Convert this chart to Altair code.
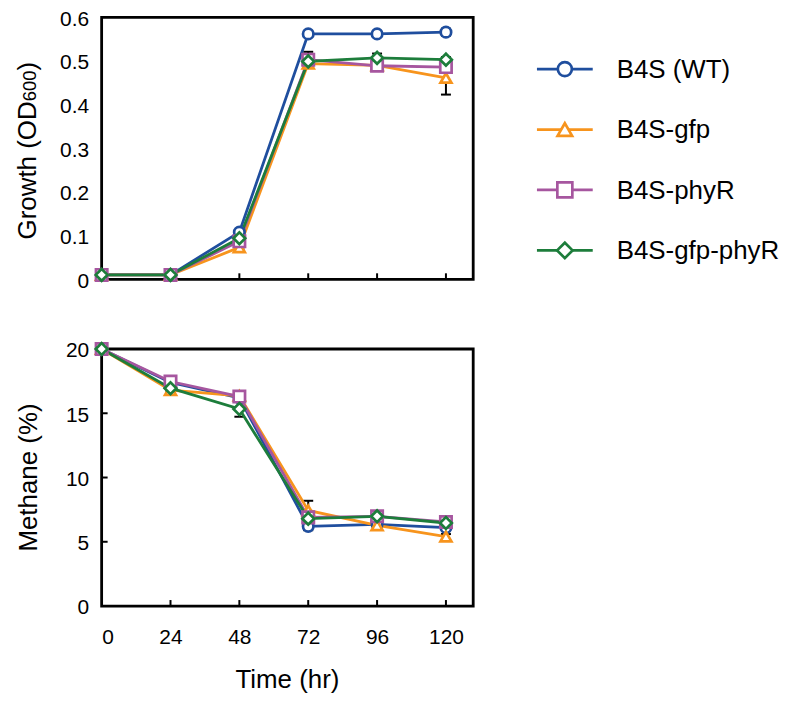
import altair as alt
import pandas as pd

FONT = "Liberation Sans"

times = [0, 24, 48, 72, 96, 120]
series = ["B4S (WT)", "B4S-gfp", "B4S-phyR", "B4S-gfp-phyR"]
colors = ["#1F4E9E", "#F7941D", "#A6569F", "#1D7D3B"]
shapes = ["circle", "triangle-up", "square", "diamond"]
plot_sizes = [110, 140, 95, 115]
legend_sizes = [200, 240, 170, 210]

# Growth (OD600)
od_wt = [0.010, 0.010, 0.108, 0.562, 0.562, 0.566]
od_gfp = [0.010, 0.010, 0.073, 0.494, 0.490, 0.461]
od_phyr = [0.010, 0.010, 0.087, 0.503, 0.489, 0.486]
od_gfp_phyr = [0.010, 0.010, 0.094, 0.499, 0.507, 0.503]
od_err_wt = [0.001, 0.001, 0.005, 0.004, 0.003, 0.008]
od_err_gfp = [0.001, 0.001, 0.004, 0.008, 0.010, 0.038]
od_err_phyr = [0.001, 0.001, 0.005, 0.018, 0.008, 0.010]
od_err_gfp_phyr = [0.001, 0.001, 0.004, 0.008, 0.010, 0.006]

# Methane (%)
ch4_wt = [20.0, 17.4, 16.2, 6.2, 6.36, 6.1]
ch4_gfp = [20.0, 16.8, 16.36, 7.44, 6.28, 5.4]
ch4_phyr = [20.0, 17.47, 16.3, 6.9, 6.98, 6.54]
ch4_gfp_phyr = [20.0, 16.95, 15.33, 6.8, 6.98, 6.46]
ch4_err_wt = [0.05, 0.35, 0.2, 0.3, 0.2, 0.2]
ch4_err_gfp = [0.05, 0.2, 0.2, 0.75, 0.2, 0.2]
ch4_err_phyr = [0.05, 0.3, 0.2, 0.3, 0.2, 0.2]
ch4_err_gfp_phyr = [0.05, 0.2, 0.6, 0.3, 0.2, 0.2]

growth_ticks = [0, 0.1, 0.2, 0.3, 0.4, 0.5, 0.6]
methane_ticks = [0, 5, 10, 15, 20]


def long_df(vals, errs):
    rows = []
    for i, s in enumerate(series):
        for t, v, e in zip(times, vals[i], errs[i]):
            rows.append({"time": t, "series": s, "value": v,
                         "lo": v - e, "hi": v + e, "k": i})
    return pd.DataFrame(rows).sort_values(["k", "time"])


df_growth = long_df([od_wt, od_gfp, od_phyr, od_gfp_phyr],
                    [od_err_wt, od_err_gfp, od_err_phyr, od_err_gfp_phyr])
df_methane = long_df([ch4_wt, ch4_gfp, ch4_phyr, ch4_gfp_phyr],
                     [ch4_err_wt, ch4_err_gfp, ch4_err_phyr, ch4_err_gfp_phyr])

W = 373
xs = alt.Scale(domain=[0, 129.5], nice=False, zero=False)
stroke_enc = alt.Stroke("series:N", scale=alt.Scale(domain=series, range=colors), legend=None)
shape_enc = alt.Shape("series:N", scale=alt.Scale(domain=series, range=shapes), legend=None)


def panel(df, ymax, yticks, fmt, height, show_xlabels, y_ticks_inside):
    ys = alt.Scale(domain=[0, ymax], nice=False, zero=True)
    xaxis = alt.Axis(values=times, labels=show_xlabels, ticks=False, domain=False,
                     grid=False, title=None, labelFontSize=21, labelPadding=21,
                     labelColor="black", labelFont=FONT)
    yaxis = alt.Axis(values=yticks, format=fmt, ticks=False, domain=False, grid=False,
                     title=None, labelFontSize=21, labelPadding=13, labelColor="black",
                     labelFont=FONT, labelOffset=2)
    base = alt.Chart(df)
    x = alt.X("time:Q", scale=xs, axis=xaxis)
    y = alt.Y("value:Q", scale=ys, axis=yaxis)
    err = base.mark_rule(color="black", strokeWidth=2).encode(
        x=x, y=alt.Y("lo:Q", scale=ys), y2="hi:Q")
    cap_lo = base.mark_rule(color="black", strokeWidth=2, xOffset=-5, x2Offset=5).encode(
        x=alt.X("time:Q", scale=xs), x2="time:Q", y=alt.Y("lo:Q", scale=ys))
    cap_hi = base.mark_rule(color="black", strokeWidth=2, xOffset=-5, x2Offset=5).encode(
        x=alt.X("time:Q", scale=xs), x2="time:Q", y=alt.Y("hi:Q", scale=ys))
    lines = base.mark_line(strokeWidth=2.8).encode(
        x=x, y=y, stroke=stroke_enc, order="time:Q")
    pts = base.mark_point(filled=True, fill="white", fillOpacity=1, strokeWidth=2.7,
                          opacity=1).encode(
        x=x, y=y, stroke=stroke_enc, shape=shape_enc,
        size=alt.Size("series:N", scale=alt.Scale(domain=series, range=plot_sizes), legend=None))
    xt = alt.Chart(pd.DataFrame({"t": times[1:]})).mark_rule(
        color="black", strokeWidth=2).encode(
        x=alt.X("t:Q", scale=xs), y=alt.value(height), y2=alt.value(height - 6))
    layers = [err, cap_lo, cap_hi, xt]
    if y_ticks_inside:
        yt = alt.Chart(pd.DataFrame({"v": yticks[1:-1]})).mark_rule(
            color="black", strokeWidth=2).encode(
            y=alt.Y("v:Q", scale=ys), x=alt.value(0), x2=alt.value(6))
        layers.append(yt)
    layers += [lines, pts]
    return layers


def txt(s, size, xv, yv, angle=0, align="center"):
    kw = dict(fontSize=size, font=FONT, color="black", align=align, baseline="alphabetic")
    if angle:
        kw["angle"] = angle
    return alt.Chart(pd.DataFrame({"t": [s]})).mark_text(**kw).encode(
        text="t:N", x=alt.value(xv), y=alt.value(yv))


H1 = 263
H2 = 258

top_layers = panel(df_growth, 0.6, growth_ticks, "~g", H1, False, False)
top_layers += [
    txt("Growth (OD", 26, -66, 223, angle=270, align="left"),
    txt("600", 18.5, -66, 84.3, angle=270, align="left"),
    txt(")", 26, -66, 53.5, angle=270, align="left"),
]

leg_df = pd.DataFrame({"series": series, "row": list(range(len(series)))})
leg_y = alt.Y("row:Q", scale=alt.Scale(domain=[0, 3], range=[52, 234], nice=False, zero=False),
              axis=None)
leg_line = alt.Chart(leg_df).mark_rule(strokeWidth=2.8).encode(
    x=alt.value(437), x2=alt.value(493), y=leg_y, stroke=stroke_enc)
leg_pts = alt.Chart(leg_df).mark_point(filled=True, fill="white", fillOpacity=1,
                                        strokeWidth=2.7, opacity=1).encode(
    x=alt.value(465), y=leg_y, stroke=stroke_enc, shape=shape_enc,
    size=alt.Size("series:N", scale=alt.Scale(domain=series, range=legend_sizes), legend=None))
leg_txt = alt.Chart(leg_df).mark_text(fontSize=26, font=FONT, color="black", align="left",
                                       baseline="middle", dy=1).encode(
    x=alt.value(517), y=leg_y, text="series:N")

main_top = alt.layer(*top_layers)
legend_layer = alt.layer(leg_line, leg_pts, leg_txt)
top = alt.layer(main_top, legend_layer).resolve_scale(y="independent", size="independent").properties(
    width=W, height=H1)

bot_layers = panel(df_methane, 20, methane_ticks, "d", H2, True, True)
bot_layers += [
    txt("Methane (%)", 26, -65, H2 / 2, angle=270, align="center"),
    txt("Time (hr)", 26, W / 2, 340),
]
bottom = alt.layer(*bot_layers).properties(width=W, height=H2)

chart = alt.vconcat(top, bottom, spacing=43).properties(
    padding={"left": 5, "top": -3, "right": 2, "bottom": 2}
).configure(font=FONT).configure_view(stroke="black", strokeWidth=2.8)

chart.save("out.html", embed_options={"renderer": "svg", "actions": False})
